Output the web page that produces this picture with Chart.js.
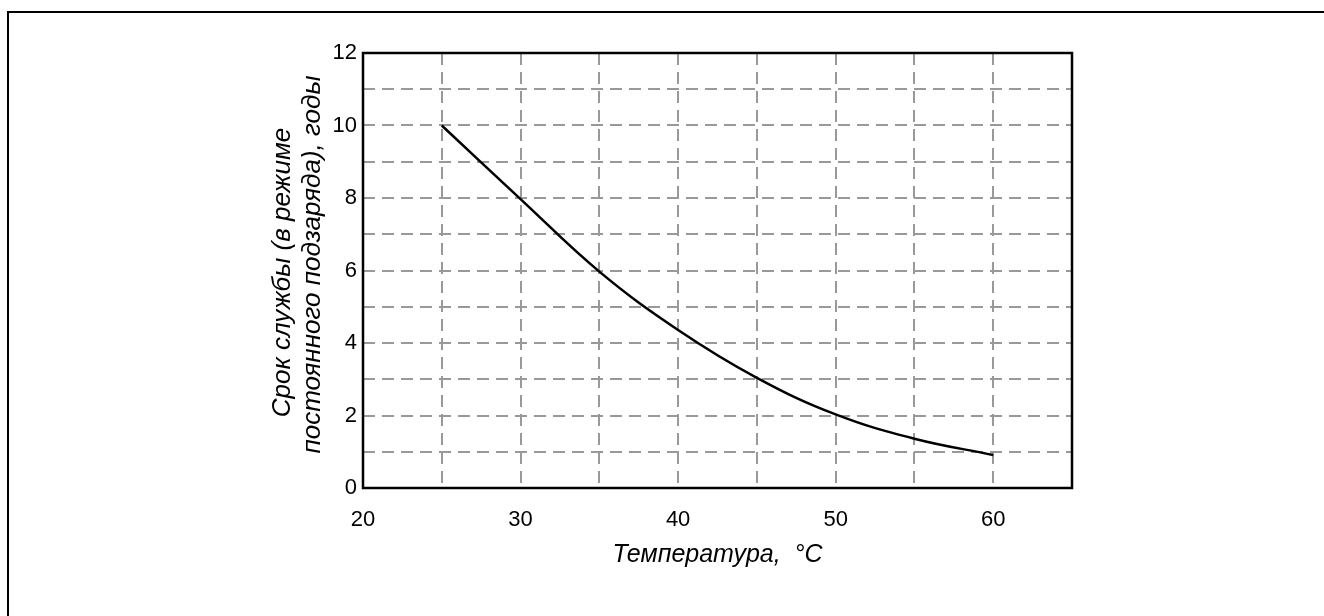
<!DOCTYPE html>
<html>
<head>
<meta charset="utf-8">
<script src="https://cdn.jsdelivr.net/npm/chart.js@4"></script>
<style>
  html, body { margin: 0; padding: 0; background: #fff; overflow: hidden; }
  #frame {
    position: absolute; left: 7px; top: 11px; width: 1400px; height: 700px;
    border-top: 2px solid #000; border-left: 2px solid #000; pointer-events: none;
  }
  #wrap { position: absolute; left: 0; top: 0; width: 1324px; height: 616px; }
</style>
</head>
<body>
<div id="frame"></div>
<div id="wrap"><canvas id="lifeChart" width="1324" height="616"></canvas></div>
<script>
// Data
const temps = [25, 30, 35, 40, 45, 50, 55, 60];
const lifeYears = [10, 7.97, 5.97, 4.36, 3.04, 2.03, 1.36, 0.91];
const xTickLabels = [20, 30, 40, 50, 60];
const yTickLabels = [0, 2, 4, 6, 8, 10, 12];
const yTitleLines = ['Срок службы (в режиме', 'постоянного подзаряда), годы'];
const xTitle = 'Температура,  °C';

const fontFamily = '"Liberation Sans", Arial, sans-serif';

// Black frame around the plot area
const plotFrame = {
    id: 'plotFrame',
    afterDraw(chart) {
        const { ctx, chartArea: a } = chart;
        ctx.save();
        ctx.strokeStyle = '#000';
        ctx.lineWidth = 2.5;
        ctx.strokeRect(a.left, a.top, a.right - a.left, a.bottom - a.top);
        ctx.restore();
    }
};

// Two-line y title
const yTitle = {
    id: 'yTitle',
    afterDraw(chart) {
        const ctx = chart.ctx;
        const a = chart.chartArea;
        ctx.save();
        ctx.fillStyle = '#000';
        ctx.font = 'italic 26px ' + fontFamily;
        ctx.textAlign = 'center';
        ctx.textBaseline = 'middle';
        const xs = [283, 313];
        const mid = (a.top + a.bottom) / 2;
        const ys = [mid + 2, mid - 6];
        yTitleLines.forEach((line, i) => {
            ctx.save();
            ctx.translate(xs[i], ys[i]);
            ctx.rotate(-Math.PI / 2);
            ctx.fillText(line, 0, 0);
            ctx.restore();
        });
        ctx.restore();
    }
};

const ctx = document.getElementById('lifeChart').getContext('2d');
const lifeChart = new Chart(ctx, {
    type: 'line',
    data: {
        datasets: [{
            data: temps.map((t, i) => ({ x: t, y: lifeYears[i] })),
            borderColor: '#000',
            borderWidth: 2.5,
            pointRadius: 0,
            fill: false,
            tension: 0.4
        }]
    },
    options: {
        responsive: false,
        animation: false,
        layout: { padding: { left: 0, top: 53, right: 252, bottom: 0 } },
        plugins: { legend: { display: false }, tooltip: { enabled: false } },
        scales: {
            x: {
                type: 'linear',
                min: 20,
                max: 65,
                afterFit(scale) { scale.height = 128; },
                ticks: {
                    stepSize: 5,
                    padding: 19,
                    maxRotation: 0,
                    color: '#000',
                    font: { family: fontFamily, size: 22 },
                    callback: v => xTickLabels.includes(v) ? String(v) : ''
                },
                grid: { color: '#999', lineWidth: 2, drawTicks: false },
                border: { display: false, dash: [12, 7] },
                title: {
                    display: true,
                    text: xTitle,
                    color: '#000',
                    font: { family: fontFamily, size: 25, style: 'italic' },
                    padding: { top: 0, bottom: 46 }
                }
            },
            y: {
                min: 0,
                max: 12,
                afterFit(scale) { scale.width = 363; },
                ticks: {
                    stepSize: 1,
                    padding: 6,
                    color: '#000',
                    font: { family: fontFamily, size: 22 },
                    callback: v => yTickLabels.includes(v) ? String(v) : ''
                },
                grid: { color: '#999', lineWidth: 2, drawTicks: false },
                border: { display: false, dash: [12, 7] }
            }
        }
    },
    plugins: [plotFrame, yTitle]
});
</script>
</body>
</html>
